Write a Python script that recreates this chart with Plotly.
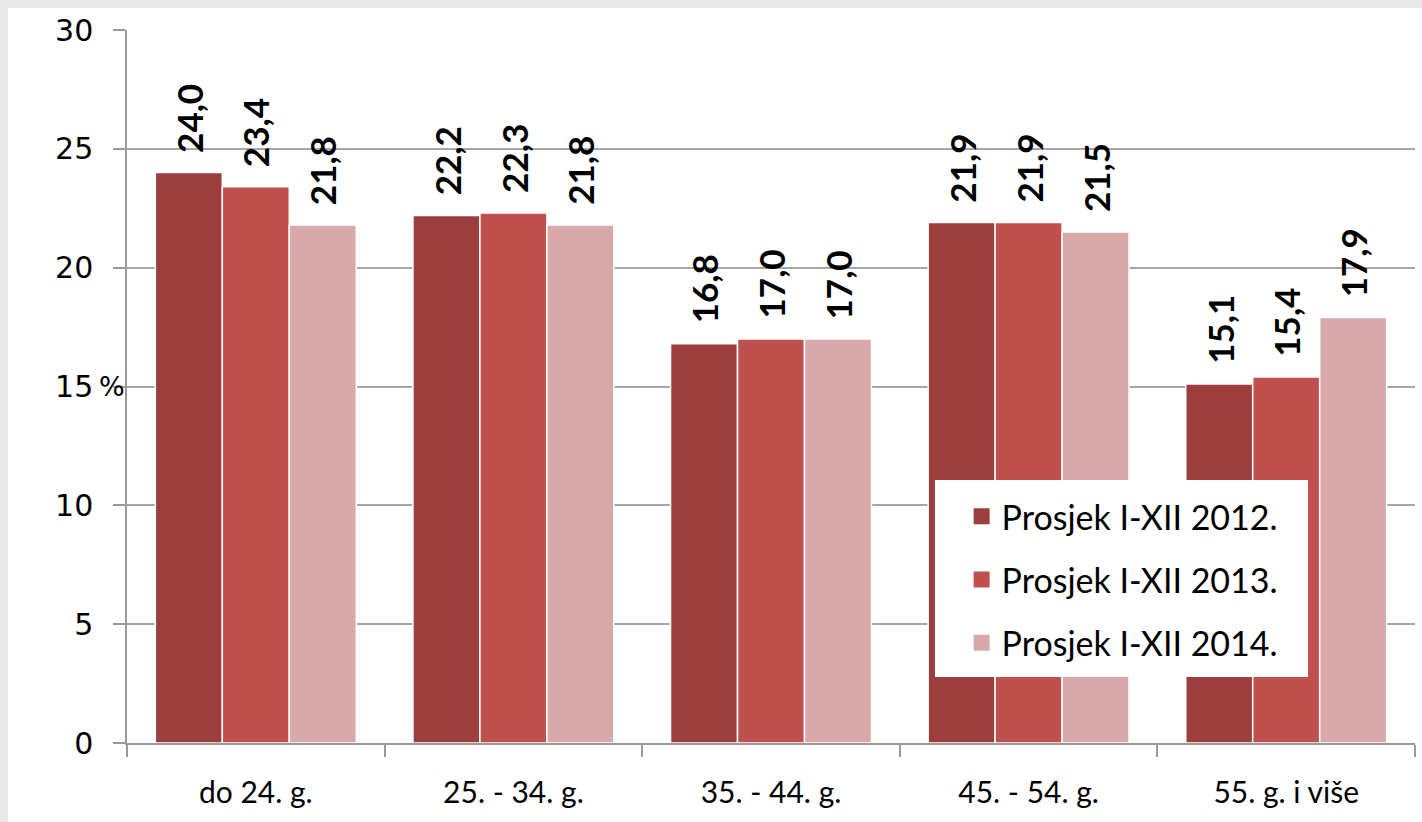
import plotly.graph_objects as go

categories = ["do 24. g.", "25. - 34. g.", "35. - 44. g.", "45. - 54. g.", "55. g. i više"]
series_names = ["Prosjek I-XII 2012.", "Prosjek I-XII 2013.", "Prosjek I-XII 2014."]
values_2012 = [24.0, 22.2, 16.8, 21.9, 15.1]
values_2013 = [23.4, 22.3, 17.0, 21.9, 15.4]
values_2014 = [21.8, 21.8, 17.0, 21.5, 17.9]
series_values = [values_2012, values_2013, values_2014]
colors = ["#9C3E3D", "#C0504E", "#D9A8A8"]
y_ticks = [0, 5, 10, 15, 20, 25, 30]

BARGAP = 0.22
n = len(series_values)
bar_w = (1 - BARGAP) / n

fig = go.Figure()
for k, (name, vals, col) in enumerate(zip(series_names, series_values, colors)):
    fig.add_trace(go.Bar(
        x=categories, y=vals, name=name, showlegend=False,
        marker=dict(color=col, line=dict(color="white", width=1.5)),
    ))
    off = (k - (n - 1) / 2) * bar_w
    for i, v in enumerate(vals):
        fig.add_annotation(
            x=i + off, y=v, xref="x", yref="y",
            text=f"{v:.1f}".replace(".", ","),
            textangle=-90, showarrow=False,
            xanchor="center", yanchor="bottom", yshift=18,
            font=dict(family="Lato", size=35, color="black", weight="bold"),
        )

# legend entries (square swatches)
for name, col in zip(series_names, colors):
    fig.add_trace(go.Scatter(
        x=[None], y=[None], mode="markers", name=name, legendgroup=name,
        marker=dict(symbol="square", size=18, color=col),
    ))

fig.add_annotation(
    x=-0.0116, y=0.5, xref="paper", yref="paper", text="%", showarrow=False,
    xanchor="center", yanchor="middle",
    font=dict(family="DejaVu Sans", size=27, color="black"),
)

# white panel over grey frame
fig.add_shape(type="rect", xref="paper", yref="paper", x0=-0.0924, x1=1.01, y0=-0.12, y1=1.031,
              fillcolor="white", line=dict(width=0), layer="below")
# legend box
fig.add_shape(type="rect", xref="paper", yref="paper", x0=0.6273, x1=0.9169, y0=0.0926, y1=0.3689,
              fillcolor="white", line=dict(width=0), layer="above")

fig.update_layout(
    width=1422, height=822,
    margin=dict(l=127, r=7, t=30, b=79),
    paper_bgcolor="#E8E8E8", plot_bgcolor="rgba(0,0,0,0)",
    barmode="group", bargap=BARGAP, bargroupgap=0,
    showlegend=True,
    legend=dict(
        x=0.648, y=0.229, xanchor="left", yanchor="middle",
        bgcolor="rgba(0,0,0,0)", borderwidth=0,
        font=dict(family="Lato", size=34, color="black"),
        tracegroupgap=16, traceorder="grouped",
        itemwidth=30,
    ),
    xaxis=dict(
        type="category", tickson="boundaries", ticks="outside", ticklen=12,
        tickcolor="#9A9A9A", tickwidth=1.5,
        showline=True, linecolor="#9A9A9A", linewidth=1.5,
        showgrid=False,
        tickfont=dict(family="Lato", size=30, color="black"),
        ticklabelstandoff=22,
        range=[-0.5, 4.5],
    ),
    yaxis=dict(
        range=[0, 30], tickvals=y_ticks, ticks="outside", ticklen=12,
        tickcolor="#9A9A9A", tickwidth=1.5,
        showline=True, linecolor="#9A9A9A", linewidth=1.5,
        showgrid=True, gridcolor="#A6A6A6", gridwidth=1.5,
        zeroline=False,
        tickfont=dict(family="DejaVu Sans", size=30, color="black"),
        ticklabelstandoff=14,
    ),
)

fig.write_html("out.html", config={"displayModeBar": False},
               post_script="document.body.style.margin='0';document.body.style.overflow='hidden';")
